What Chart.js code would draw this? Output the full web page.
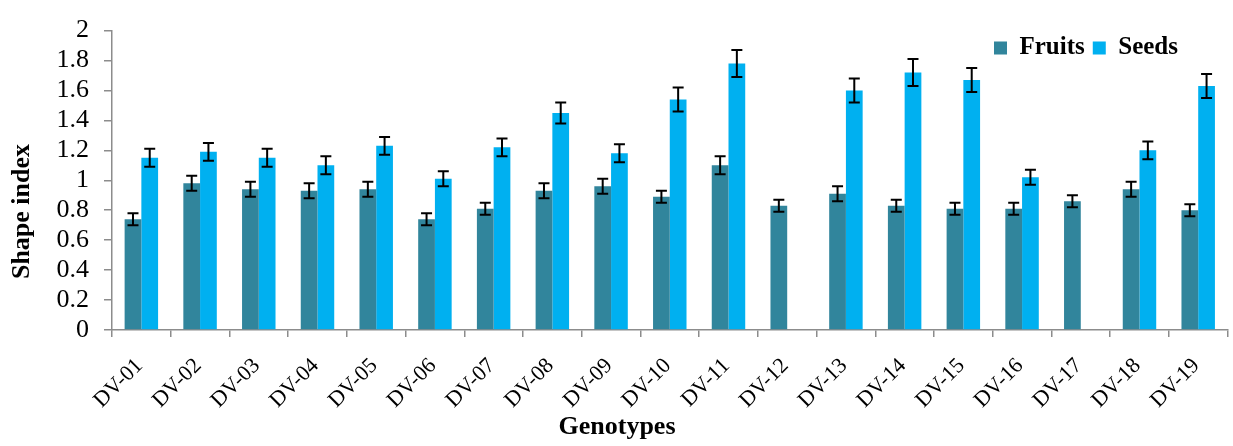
<!DOCTYPE html>
<html>
<head>
<meta charset="utf-8">
<script src="https://cdn.jsdelivr.net/npm/chart.js@4/dist/chart.umd.min.js"></script>
<style>
  html, body { margin: 0; padding: 0; background: #ffffff; }
  canvas { display: block; }
</style>
</head>
<body>
<canvas id="c" width="1233" height="446"></canvas>
<script>
const categories = ['DV-01','DV-02','DV-03','DV-04','DV-05','DV-06','DV-07','DV-08','DV-09','DV-10',
                    'DV-11','DV-12','DV-13','DV-14','DV-15','DV-16','DV-17','DV-18','DV-19'];
const fruits    = [0.74,0.98,0.94,0.93,0.94,0.74,0.81,0.93,0.96,0.89,1.10,0.83,0.91,0.83,0.81,0.81,0.86,0.94,0.80];
const fruitsErr = [0.04,0.05,0.05,0.05,0.05,0.04,0.04,0.05,0.05,0.04,0.06,0.04,0.05,0.04,0.04,0.04,0.04,0.05,0.04];
const seeds     = [1.15,1.19,1.15,1.10,1.23,1.01,1.22,1.45,1.18,1.54,1.78,null,1.60,1.72,1.67,1.02,null,1.20,1.63];
const seedsErr  = [0.06,0.06,0.06,0.06,0.06,0.05,0.06,0.07,0.06,0.08,0.09,null,0.08,0.09,0.08,0.05,null,0.06,0.08];
const yTickLabels = ['0','0.2','0.4','0.6','0.8','1','1.2','1.4','1.6','1.8','2'];

const SERIF = '"Liberation Serif", "Times New Roman", Times, serif';
const AXIS_GRAY = '#8c8c8c';

const errorBarPlugin = {
  id: 'errorBars',
  afterDatasetsDraw(chart) {
    const ctx = chart.ctx;
    const yScale = chart.scales.y;
    chart.data.datasets.forEach((ds, di) => {
      const meta = chart.getDatasetMeta(di);
      meta.data.forEach((bar, i) => {
        const v = ds.data[i];
        const e = ds.errors[i];
        if (v === null || v === undefined || e === null || e === undefined) return;
        const x = bar.x;
        const yt = yScale.getPixelForValue(v + e);
        const yb = yScale.getPixelForValue(v - e);
        const cap = 5.5;
        ctx.save();
        ctx.strokeStyle = '#000000';
        ctx.lineWidth = 2;
        ctx.beginPath();
        ctx.moveTo(x, yt); ctx.lineTo(x, yb);
        ctx.moveTo(x - cap, yt); ctx.lineTo(x + cap, yt);
        ctx.moveTo(x - cap, yb); ctx.lineTo(x + cap, yb);
        ctx.stroke();
        ctx.restore();
      });
    });
  }
};

const legendPlacer = {
  id: 'legendPlacer',
  afterLayout(chart) {
    const lg = chart.legend;
    if (!lg) return;
    lg.top = 27.5;
    lg.bottom = lg.top + 50;
    lg.right = 1186;
    lg.left = 600;
  }
};

new Chart(document.getElementById('c'), {
  type: 'bar',
  data: {
    labels: categories,
    datasets: [
      { label: 'Fruits', data: fruits, errors: fruitsErr, backgroundColor: '#31859C',
        categoryPercentage: 0.57, barPercentage: 1.0 },
      { label: 'Seeds', data: seeds, errors: seedsErr, backgroundColor: '#00B0F0',
        categoryPercentage: 0.57, barPercentage: 1.0 }
    ]
  },
  options: {
    responsive: false,
    animation: false,
    layout: { padding: { left: 6, right: 5, top: 0, bottom: 23 } },
    plugins: {
      tooltip: { enabled: false },
      legend: {
        position: 'top',
        align: 'end',
        maxHeight: 21,
        labels: {
          boxWidth: 13, boxHeight: 13, padding: 8, color: '#000000',
          font: { family: SERIF, size: 25, weight: 'bold' }
        }
      },
      title: {
        display: true,
        position: 'left',
        text: 'Shape index',
        color: '#000000',
        font: { family: SERIF, size: 26, weight: 'bold', lineHeight: 1.2 },
        padding: { top: 1, bottom: 0 }
      },
      subtitle: {
        display: true,
        position: 'bottom',
        text: 'Genotypes',
        color: '#000000',
        font: { family: SERIF, size: 26, weight: 'bold', lineHeight: 1.2 },
        padding: { top: 0, bottom: -20 }
      }
    },
    scales: {
      x: {
        grid: { display: true, offset: true, drawOnChartArea: false, drawTicks: true, tickLength: 7, color: AXIS_GRAY, lineWidth: 1.5 },
        border: { display: true, color: AXIS_GRAY, width: 1.5 },
        ticks: {
          autoSkip: false, maxRotation: 45, minRotation: 45, padding: 16, labelOffset: -2,
          color: '#000000', font: { family: SERIF, size: 22 }
        },
        afterFit(scale) { scale.height = 81.8; }
      },
      y: {
        min: 0, max: 2,
        grid: { display: true, drawOnChartArea: false, drawTicks: true, tickLength: 8, color: AXIS_GRAY, lineWidth: 1.5 },
        border: { display: true, color: AXIS_GRAY, width: 1.5 },
        ticks: {
          stepSize: 0.2, autoSkip: false, padding: 15, color: '#000000',
          font: { family: SERIF, size: 26 },
          callback: (value, index) => yTickLabels[index]
        },
        afterFit(scale) { scale.width = 73.8; }
      }
    }
  },
  plugins: [errorBarPlugin, legendPlacer]
});
</script>
</body>
</html>
